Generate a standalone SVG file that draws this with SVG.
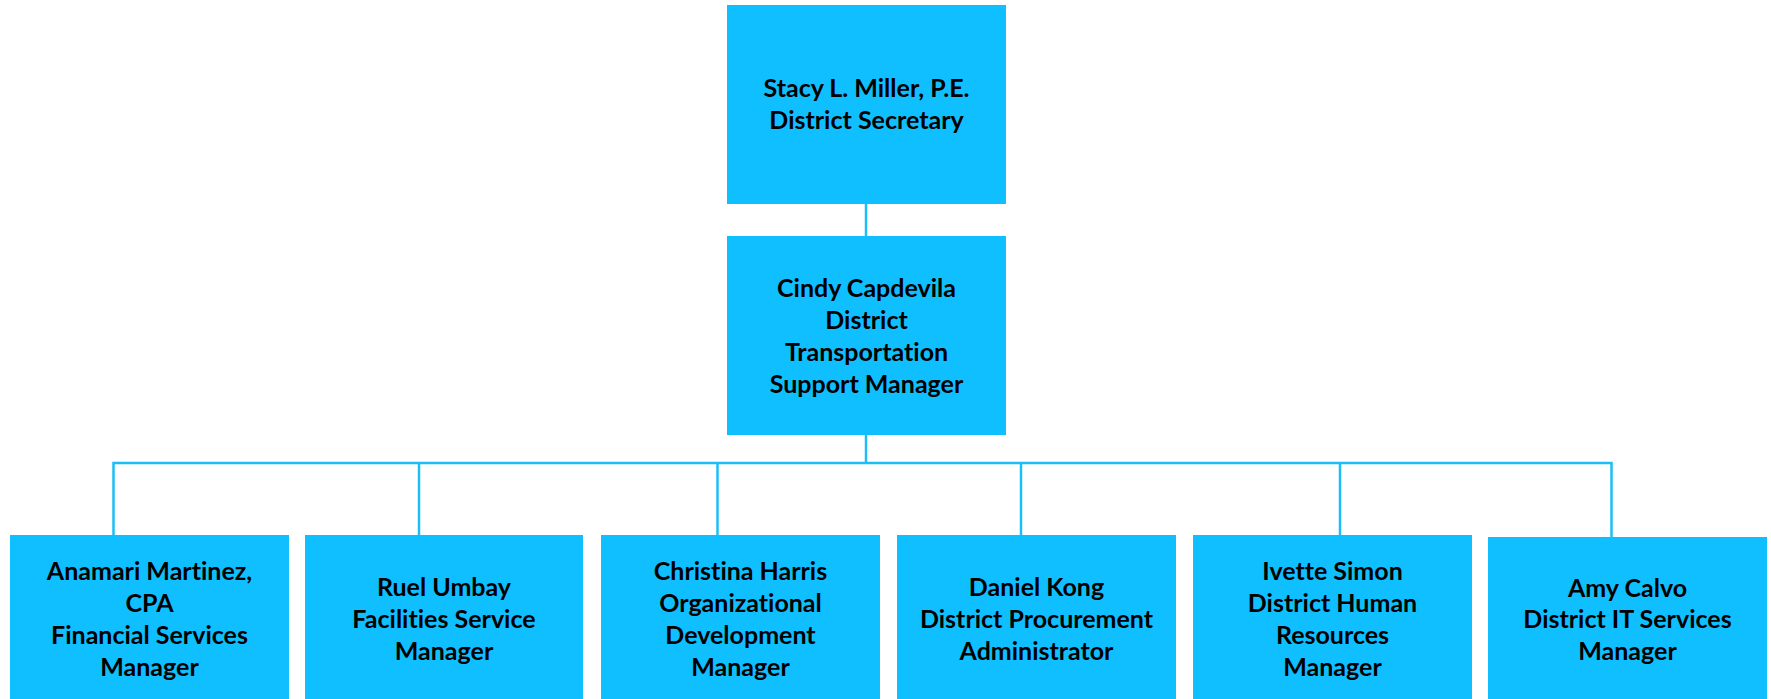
<svg xmlns="http://www.w3.org/2000/svg" width="1771" height="699" viewBox="0 0 1771 699">
<style>
.box{fill:#0FBFFF;}
.lbl{font-family:Lato,"Liberation Sans",sans-serif;font-weight:700;font-size:25px;fill:#000;text-anchor:middle;font-variant-ligatures:none;font-feature-settings:"liga" 0,"clig" 0;}
.conn{stroke:#1CBFF5;stroke-width:2.5;fill:none;}
</style>
<rect width="1771" height="699" fill="#fff"/>
<g id="connectors">
<line class="conn" x1="866" y1="204" x2="866" y2="236"/>
<line class="conn" x1="866" y1="435" x2="866" y2="463"/>
<polyline class="conn" points="113.5,535 113.5,463 1611.5,463 1611.5,537"/>
<line class="conn" x1="419" y1="463" x2="419" y2="535"/>
<line class="conn" x1="717.5" y1="463" x2="717.5" y2="535"/>
<line class="conn" x1="1021" y1="463" x2="1021" y2="535"/>
<line class="conn" x1="1340" y1="463" x2="1340" y2="535"/>
</g>
<g id="n-miller">
<rect class="box" x="727" y="5" width="279" height="199"/>
<text class="lbl" x="866.5" y="97">Stacy L. Miller, P.E.</text>
<text class="lbl" x="866.5" y="129">District Secretary</text>
</g>
<g id="n-capdevila">
<rect class="box" x="727" y="236" width="279" height="199"/>
<text class="lbl" x="866.5" y="297">Cindy Capdevila</text>
<text class="lbl" x="866.5" y="329">District</text>
<text class="lbl" x="866.5" y="361">Transportation</text>
<text class="lbl" x="866.5" y="393">Support Manager</text>
</g>
<g id="n-martinez">
<rect class="box" x="10" y="535" width="279" height="164"/>
<text class="lbl" x="149.5" y="580">Anamari Martinez,</text>
<text class="lbl" x="149.5" y="612">CPA</text>
<text class="lbl" x="149.5" y="644">Financial Services</text>
<text class="lbl" x="149.5" y="676">Manager</text>
</g>
<g id="n-umbay">
<rect class="box" x="305" y="535" width="278" height="164"/>
<text class="lbl" x="444" y="596">Ruel Umbay</text>
<text class="lbl" x="444" y="628">Facilities Service</text>
<text class="lbl" x="444" y="660">Manager</text>
</g>
<g id="n-harris">
<rect class="box" x="601" y="535" width="279" height="164"/>
<text class="lbl" x="740.5" y="580">Christina Harris</text>
<text class="lbl" x="740.5" y="612">Organizational</text>
<text class="lbl" x="740.5" y="644">Development</text>
<text class="lbl" x="740.5" y="676">Manager</text>
</g>
<g id="n-kong">
<rect class="box" x="897" y="535" width="279" height="164"/>
<text class="lbl" x="1036.5" y="596">Daniel Kong</text>
<text class="lbl" x="1036.5" y="628">District Procurement</text>
<text class="lbl" x="1036.5" y="660">Administrator</text>
</g>
<g id="n-simon">
<rect class="box" x="1193" y="535" width="279" height="164"/>
<text class="lbl" x="1332.5" y="580">Ivette Simon</text>
<text class="lbl" x="1332.5" y="612">District Human</text>
<text class="lbl" x="1332.5" y="644">Resources</text>
<text class="lbl" x="1332.5" y="676">Manager</text>
</g>
<g id="n-calvo">
<rect class="box" x="1488" y="537" width="279" height="162"/>
<text class="lbl" x="1627.5" y="597">Amy Calvo</text>
<text class="lbl" x="1627.5" y="628">District IT Services</text>
<text class="lbl" x="1627.5" y="660">Manager</text>
</g>
</svg>
